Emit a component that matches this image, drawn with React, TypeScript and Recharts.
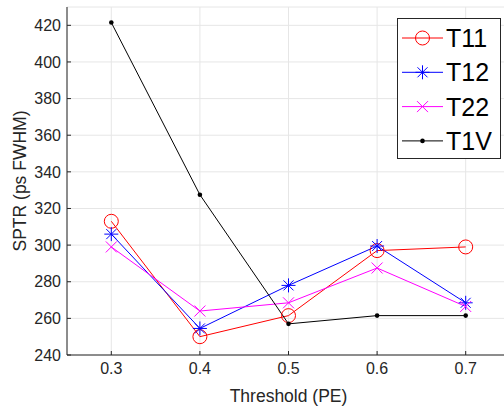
import React from "react";
import {
  LineChart,
  Line,
  XAxis,
  YAxis,
  CartesianGrid,
  ReferenceLine,
} from "recharts";

const thresholds = [0.3, 0.4, 0.5, 0.6, 0.7];
const t11 = [313, 250, 261.5, 297, 299];
const t12 = [306, 254.5, 278, 299.5, 268.5];
const t22 = [299, 264, 268.5, 287.5, 266.5];
const t1v = [421.5, 327.5, 257, 261.5, 261.5];
const yTicks = [240, 260, 280, 300, 320, 340, 360, 380, 400, 420];

const data = thresholds.map((x, i) => ({
  x,
  T11: t11[i],
  T12: t12[i],
  T22: t22[i],
  T1V: t1v[i],
}));

const FONT = "'Liberation Sans', Arial, Helvetica, sans-serif";
const AXIS = "#262626";
const TICK_GAP = 8; // tickSize + tickMargin on the bottom axis
const Y_GAP = 6; // tickSize + tickMargin on the left axis
const TICK_LEN = 4;

type Mark = "circle" | "asterisk" | "cross" | "dot";

function Marker({ cx, cy, kind, color }: { cx: number; cy: number; kind: Mark; color: string }) {
  if (kind === "circle") {
    return <circle cx={cx} cy={cy} r={7} fill="none" stroke={color} strokeWidth={1} />;
  }
  if (kind === "cross") {
    const s = 5.5;
    return (
      <g stroke={color} strokeWidth={1}>
        <line x1={cx - s} y1={cy - s} x2={cx + s} y2={cy + s} />
        <line x1={cx - s} y1={cy + s} x2={cx + s} y2={cy - s} />
      </g>
    );
  }
  if (kind === "asterisk") {
    const s = 7;
    const d = 5;
    return (
      <g stroke={color} strokeWidth={1}>
        <line x1={cx - s} y1={cy} x2={cx + s} y2={cy} />
        <line x1={cx} y1={cy - s} x2={cx} y2={cy + s} />
        <line x1={cx - d} y1={cy - d} x2={cx + d} y2={cy + d} />
        <line x1={cx - d} y1={cy + d} x2={cx + d} y2={cy - d} />
      </g>
    );
  }
  return <circle cx={cx} cy={cy} r={2.3} fill={color} stroke="none" />;
}

const series: { key: string; color: string; mark: Mark }[] = [
  { key: "T11", color: "#ff0000", mark: "circle" },
  { key: "T12", color: "#0000ff", mark: "asterisk" },
  { key: "T22", color: "#ff00ff", mark: "cross" },
  { key: "T1V", color: "#000000", mark: "dot" },
];

// ticks point inward like matlab
function BottomTick(p: any) {
  const axisY = p.y - TICK_GAP;
  return (
    <g>
      <line x1={p.x} y1={axisY} x2={p.x} y2={axisY - TICK_LEN} stroke={AXIS} strokeWidth={1} />
      <text x={p.x} y={p.y} dy="0.71em" textAnchor="middle" fontSize={16} fill={AXIS} fontFamily={FONT}>
        {p.payload.value}
      </text>
    </g>
  );
}

function TopTick(p: any) {
  return <line x1={p.x} y1={p.y} x2={p.x} y2={p.y + TICK_LEN} stroke={AXIS} strokeWidth={1} />;
}

function LeftTick(p: any) {
  const axisX = p.x + Y_GAP;
  return (
    <g>
      <line x1={axisX} y1={p.y} x2={axisX + TICK_LEN} y2={p.y} stroke={AXIS} strokeWidth={1} />
      <text x={p.x} y={p.y} dy="0.355em" textAnchor="end" fontSize={16} fill={AXIS} fontFamily={FONT}>
        {p.payload.value}
      </text>
    </g>
  );
}

function LegendBox() {
  return (
    <svg width={104} height={141} style={{ position: "absolute", left: 397, top: 18 }}>
      <rect x={0.5} y={0.5} width={103} height={140} fill="#fff" stroke={AXIS} strokeWidth={1} />
      {series.map((s, i) => {
        const cy = 20 + i * 34.3;
        return (
          <g key={s.key}>
            <line x1={5} y1={cy} x2={46} y2={cy} stroke={s.color} strokeWidth={1} />
            <Marker cx={25.5} cy={cy} kind={s.mark} color={s.color} />
            <text x={49} y={cy} dy="0.36em" fontSize={25} fontFamily={FONT} fill="#000">
              {s.key}
            </text>
          </g>
        );
      })}
    </svg>
  );
}

export default function App() {
  return (
    <div
      style={{
        position: "absolute",
        left: 0,
        top: 0,
        width: 504,
        height: 410,
        overflow: "hidden",
        background: "#fff",
      }}
    >
      <LineChart
        width={520}
        height={410}
        data={data}
        margin={{ top: 7, right: 10, bottom: 0, left: 0 }}
        style={{ fontFamily: FONT }}
      >
        <CartesianGrid stroke="#e6e6e6" strokeWidth={1} />
        <XAxis
          dataKey="x"
          type="number"
          domain={[0.25, 0.75]}
          ticks={thresholds}
          height={55}
          tickLine={false}
          tickSize={4}
          tickMargin={4}
          stroke={AXIS}
          tick={<BottomTick />}
          label={{
            value: "Threshold (PE)",
            position: "insideBottom",
            offset: 8,
            fill: AXIS,
            fontSize: 17.5,
          }}
        />
        <XAxis
          xAxisId="top"
          orientation="top"
          dataKey="x"
          type="number"
          domain={[0.25, 0.75]}
          ticks={thresholds}
          height={0}
          tickLine={false}
          tickSize={0}
          tickMargin={0}
          stroke={AXIS}
          tick={<TopTick />}
        />
        <YAxis
          type="number"
          domain={[240, 430]}
          ticks={yTicks}
          width={67}
          tickLine={false}
          tickSize={4}
          tickMargin={2}
          stroke={AXIS}
          tick={<LeftTick />}
          label={{
            value: "SPTR (ps FWHM)",
            angle: -90,
            position: "insideLeft",
            offset: 20,
            fill: AXIS,
            fontSize: 17.5,
            style: { textAnchor: "middle" },
          }}
        />
        <ReferenceLine x={0.75} stroke={AXIS} strokeWidth={1} />
        {series.map((s) => (
          <Line
            key={s.key}
            dataKey={s.key}
            stroke={s.color}
            strokeWidth={1}
            isAnimationActive={false}
            activeDot={false}
            dot={(p: any) => (
              <Marker key={`${s.key}-${p.index}`} cx={p.cx} cy={p.cy} kind={s.mark} color={s.color} />
            )}
          />
        ))}
      </LineChart>
      <LegendBox />
    </div>
  );
}
